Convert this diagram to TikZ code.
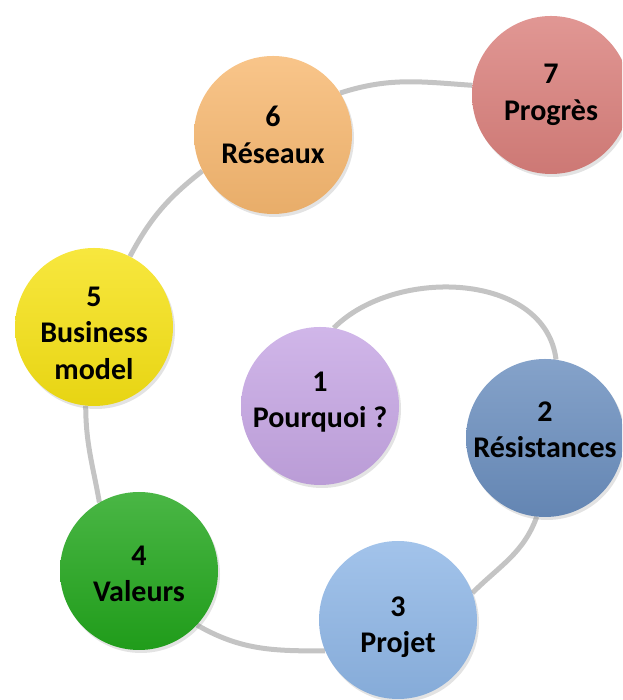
\documentclass[tikz,border=0pt]{standalone}
\usepackage{fontspec}
\setmainfont{Carlito}
\usetikzlibrary{shadows,backgrounds}
\definecolor{cPurple}{RGB}{198,166,228}
\definecolor{cSteel}{RGB}{106,142,190}
\definecolor{cSky}{RGB}{142,182,230}
\definecolor{cGreen}{RGB}{34,166,28}
\definecolor{cYellow}{RGB}{246,226,20}
\definecolor{cOrange}{RGB}{247,184,112}
\definecolor{cRose}{RGB}{218,128,124}
\definecolor{linegray}{RGB}{196,196,196}
\begin{document}
\begin{tikzpicture}[x=1pt,y=1pt,
  ball/.style={circle, minimum size=158pt, inner sep=0pt,
    top color=#1!82!white, bottom color=#1!94!black, draw=none,
    drop shadow={opacity=0.22, shadow xshift=2pt, shadow yshift=-3pt}},
  lbl/.style={align=center, inner sep=0pt, text=black,
    font=\fontsize{30}{36.5}\selectfont\bfseries},
  link/.style={draw=linegray, line width=5pt}]
\useasboundingbox (0,0) rectangle (622,700);
\clip (0,0) rectangle (622,700);
\node[ball=cPurple] (c1) at (320,294) {};
\node[ball=cSteel]  (c2) at (545,262) {};
\node[ball=cSky]    (c3) at (398,80)  {};
\node[ball=cGreen]  (c4) at (139,129) {};
\node[ball=cYellow] (c5) at (94,373)  {};
\node[ball=cOrange] (c6) at (273,565) {};
\node[ball=cRose]   (c7) at (551,605) {};
\node[lbl] (t1) at ([yshift=4pt]c1.center)  {1\\Pourquoi ?};
\node[lbl] (t2) at ([yshift=8pt]c2.center)  {2\\Résistances};
\node[lbl] (t3) at ([yshift=-7pt]c3.center) {3\\Projet};
\node[lbl] (t4) at ([yshift=-3pt]c4.center) {4\\Valeurs};
\node[lbl] (t5) at ([yshift=-6pt]c5.center) {5\\Business\\model};
\node[lbl] (t6) at ([yshift=0pt]c6.center)  {6\\Réseaux};
\node[lbl] (t7) at ([yshift=0pt]c7.center)  {7\\Progrès};
\begin{pgfonlayer}{background}
\draw[link] (c1.80) to[out=45,in=97] (c2.82);
\draw[link] (c2.264) to[out=250,in=45] (c3.20);
\draw[link] (c3.203) to[out=180,in=-30] (c4.317);
\draw[link] (c4.120) to[out=100,in=-90] (c5.264);
\draw[link] (c5.63) to[out=62,in=218] (c6.207);
\draw[link] (c6.32) to[out=18,in=176] (c7.173);
\end{pgfonlayer}
\end{tikzpicture}
\end{document}
